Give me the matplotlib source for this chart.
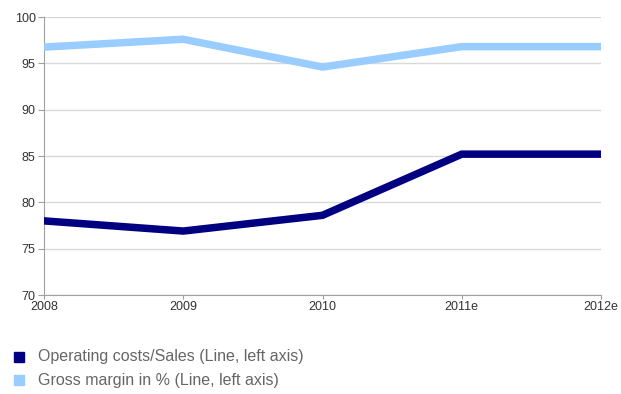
import matplotlib.pyplot as plt
from matplotlib.patches import Rectangle

years = ['2008', '2009', '2010', '2011e', '2012e']
operating_costs = [78.0, 76.9, 78.6, 85.2, 85.2]
gross_margin = [96.75, 97.6, 94.6, 96.8, 96.8]
yticks = [70, 75, 80, 85, 90, 95, 100]

plt.rcParams['font.family'] = ['Liberation Sans', 'DejaVu Sans']

W, H = 621, 394
fig = plt.figure(figsize=(W / 100, H / 100), dpi=100)
ax = fig.add_axes([44 / W, 1 - 295 / H, (601 - 44) / W, (295 - 17) / H])

x = list(range(len(years)))
ax.plot(x, gross_margin, color='#99ccff', lw=5.4, solid_joinstyle='miter', zorder=3)
ax.plot(x, operating_costs, color='#000080', lw=5.4, solid_joinstyle='miter', zorder=3)

ax.set_xlim(0, len(years) - 1)
ax.set_ylim(70, 100)
ax.set_yticks(yticks)
ax.set_xticks(x)
ax.set_xticklabels(years)
ax.grid(axis='y', color='#d9d9d9', lw=1)
ax.set_axisbelow(True)

for s in ['top', 'right']:
    ax.spines[s].set_visible(False)
for s in ['left', 'bottom']:
    ax.spines[s].set_color('#a0a0a0')
ax.tick_params(axis='y', length=4, color='#a0a0a0', labelsize=9, labelcolor='#333333', pad=2)
ax.tick_params(axis='x', length=3, color='#a0a0a0', labelsize=9, labelcolor='#333333', pad=1)

# legend at the bottom
items = [('Operating costs/Sales (Line, left axis)', '#000080', 357),
         ('Gross margin in % (Line, left axis)', '#99ccff', 380)]
for label, col, yp in items:
    fig.patches.append(Rectangle((14 / W, 1 - (yp + 5) / H), 10 / W, 10 / H,
                                 transform=fig.transFigure, color=col))
    fig.text(38 / W, 1 - yp / H, label, fontsize=11.5, color='#666666', va='center')

fig.savefig('out.png', dpi=100)
